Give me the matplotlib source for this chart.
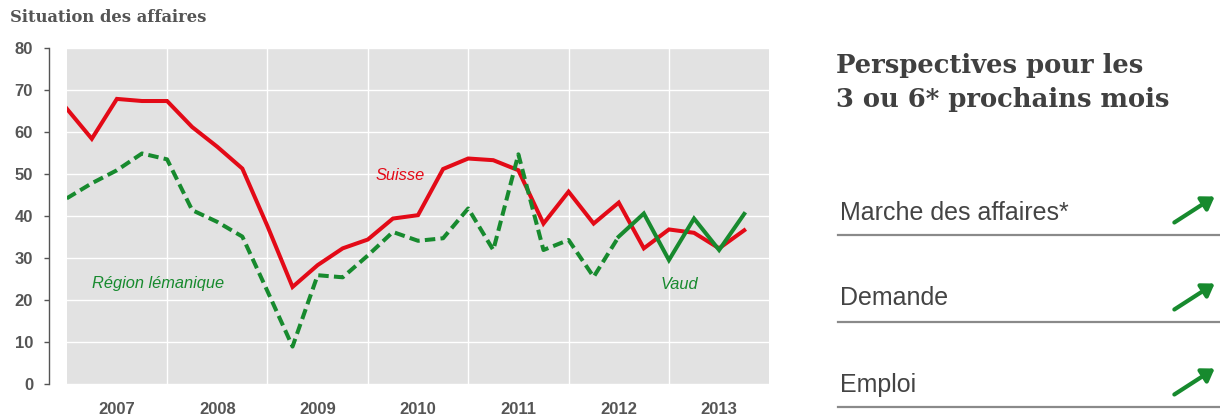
import numpy as np
import matplotlib
matplotlib.use("Agg")
import matplotlib.pyplot as plt
from matplotlib.patches import FancyArrowPatch

# ---------------- data ----------------
quarters_suisse = [2007 + i / 4 for i in range(28)]
suisse = [65.5, 58.3, 67.8, 67.3, 67.3, 61.1, 56.4, 51.2, 37.5, 23.0,
          28.2, 32.2, 34.3, 39.3, 40.1, 51.1, 53.6, 53.2, 50.8, 38.1,
          45.7, 38.1, 43.1, 32.2, 36.7, 35.9, 32.2, 36.5]

quarters_region = [2007 + i / 4 for i in range(23)]
region = [44.1, 47.7, 50.8, 54.8, 53.4, 41.3, 38.5, 35.0, 22.0, 8.8,
          25.8, 25.3, 30.5, 36.1, 34.0, 34.6, 41.7, 31.8, 54.6, 31.8,
          34.2, 25.4, 35.0]

quarters_vaud = [2007 + i / 4 for i in range(22, 28)]
vaud = [35.0, 40.5, 29.4, 39.3, 31.8, 40.4]

years = [2007, 2008, 2009, 2010, 2011, 2012, 2013]
year_labels = ["2007", "2008", "2009", "2010", "2011", "2012", "2013"]
yticks = [0, 10, 20, 30, 40, 50, 60, 70, 80]

outlook_items = ["Marche des affaires*", "Demande", "Emploi"]

RED = "#e30a17"
GREEN = "#178a2e"
TXT = "#555555"

W, H = 1220, 419
fig = plt.figure(figsize=(W / 100, H / 100), dpi=100)

# ---------------- main chart ----------------
x0, x1 = 66.7, 769.3
y0, y1 = 383.5, 47.7
ax = fig.add_axes([x0 / W, (H - y0) / H, (x1 - x0) / W, (y0 - y1) / H])
ax.set_facecolor("#e2e2e2")

ax.plot(quarters_suisse, suisse, color=RED, lw=2.9, solid_joinstyle="miter", zorder=3)
ax.plot(quarters_region, region, color=GREEN, lw=2.9, dashes=(2.6, 1.3),
        dash_capstyle="butt", zorder=4)
ax.plot(quarters_vaud, vaud, color=GREEN, lw=2.9, solid_joinstyle="miter", zorder=4)

ax.set_xlim(2007, 2014)
ax.set_ylim(0, 80)

ax.set_yticks(yticks)
ax.set_yticklabels([str(v) for v in yticks])
ax.set_xticks(years[1:])
ax.set_xticklabels([])
ax.set_xticks([y + 0.5 for y in years], minor=True)
ax.set_xticklabels(year_labels, minor=True)

ax.grid(True, which="major", color="white", lw=1.0)
ax.set_axisbelow(True)
for s in ["top", "right", "bottom"]:
    ax.spines[s].set_visible(False)
ax.spines["left"].set_position(("outward", 12.6))
ax.spines["left"].set_color("#555555")
ax.spines["left"].set_linewidth(1.0)

ax.tick_params(axis="x", which="both", length=0)
ax.tick_params(axis="x", which="minor", pad=13, labelsize=12, labelcolor=TXT)
ax.tick_params(axis="y", length=3.6, width=1, color="#555555", pad=8,
               labelsize=12, labelcolor=TXT)
for lab in ax.get_yticklabels() + ax.get_xticklabels(minor=True):
    lab.set_fontfamily("Liberation Sans")
    lab.set_fontweight("bold")
    lab.set_color(TXT)

ax.text(2010.32, 49.6, "Suisse", color=RED, fontsize=11.8, style="italic",
        family="Liberation Sans", ha="center", va="center")
ax.text(2007.915, 23.9, "Région lémanique", color=GREEN, fontsize=11.8, style="italic",
        family="Liberation Sans", ha="center", va="center")
ax.text(2013.10, 23.7, "Vaud", color=GREEN, fontsize=11.8, style="italic",
        family="Liberation Sans", ha="center", va="center")

fig.text(10 / W, 1 - 18 / H, "Situation des affaires", fontsize=11.8,
         family="DejaVu Serif", fontweight="bold", color="#555555",
         ha="left", va="center")

# ---------------- right panel ----------------
rp = fig.add_axes([0, 0, 1, 1], facecolor="none")
rp.set_xlim(0, W)
rp.set_ylim(H, 0)
rp.axis("off")

rp.text(836, 73, "Perspectives pour les", fontsize=18.6, family="DejaVu Serif",
        fontweight="bold", color="#404040", ha="left", va="baseline")
rp.text(836, 107, "3 ou 6* prochains mois", fontsize=18.6, family="DejaVu Serif",
        fontweight="bold", color="#404040", ha="left", va="baseline")

baselines = [220, 305, 391.5]
underlines = [235, 322, 407]
for label, b, u in zip(outlook_items, baselines, underlines):
    rp.text(840, b, label, fontsize=18, family="Liberation Sans", color="#444444",
            ha="left", va="baseline")
    rp.plot([838, 1220], [u, u], color="#8a8a8a", lw=1.6)
    arr = FancyArrowPatch((1172, u - 11), (1217, u - 40),
                          arrowstyle="-|>,head_length=4.5,head_width=3",
                          mutation_scale=1.6, color=GREEN, lw=3.0,
                          capstyle="round")
    rp.add_patch(arr)

fig.savefig("out.png", dpi=100)
